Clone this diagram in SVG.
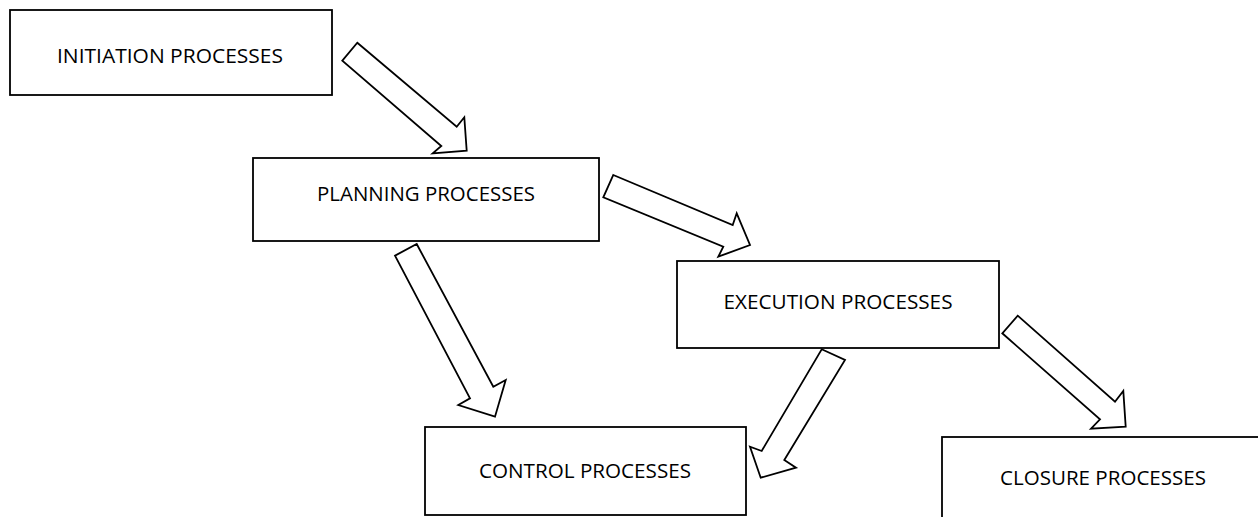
<svg xmlns="http://www.w3.org/2000/svg" width="1258" height="517" viewBox="0 0 1258 517">
<style>
.box{fill:#fff;stroke:#000;stroke-width:1.8}
.lbl{font-family:"Open Sans","Noto Sans",sans-serif;font-size:19.5px;fill:#000;text-anchor:middle}
.arr{fill:#fff;stroke:#000;stroke-width:1.8;stroke-linejoin:miter}
</style>
<rect width="1258" height="517" fill="#fff"/>
<g id="initiation">
<rect class="box" x="10" y="10" width="322" height="85"/>
<text class="lbl" x="170" y="63" textLength="226" lengthAdjust="spacingAndGlyphs">INITIATION PROCESSES</text>
</g>
<g id="planning">
<rect class="box" x="253" y="158" width="346" height="83"/>
<text class="lbl" x="426" y="201" textLength="218" lengthAdjust="spacingAndGlyphs">PLANNING PROCESSES</text>
</g>
<g id="execution">
<rect class="box" x="677" y="261" width="322" height="87"/>
<text class="lbl" x="838" y="309" textLength="229" lengthAdjust="spacingAndGlyphs">EXECUTION PROCESSES</text>
</g>
<g id="control">
<rect class="box" x="425" y="427" width="321" height="88"/>
<text class="lbl" x="585" y="478" textLength="212" lengthAdjust="spacingAndGlyphs">CONTROL PROCESSES</text>
</g>
<g id="closure">
<rect class="box" x="942" y="437" width="330" height="100"/>
<text class="lbl" x="1103" y="485" textLength="206" lengthAdjust="spacingAndGlyphs">CLOSURE PROCESSES</text>
</g>
<g id="connectors">
<polygon class="arr" points="357.3,42.7 456.7,126.7 464.3,117.3 466.7,150.7 432.7,153.3 441.3,146 342.3,60.7"/>
<polygon class="arr" points="613.3,175 732.7,225 736.7,213.3 750,245 718.3,256.7 723.3,246.7 603.3,197.3"/>
<polygon class="arr" points="416.7,244 493.3,386.7 505.7,380 495,416.7 458.3,405 470,398.3 395,255.7"/>
<polygon class="arr" points="821.7,349.3 845,360 784.3,460 796,467.7 760.7,477.7 750,446.7 761.7,451"/>
<polygon class="arr" points="1017.7,315.7 1115,401.7 1123.3,391 1125.7,426.7 1091,428.7 1100,419.3 1002.3,333.3"/>
</g>
</svg>
